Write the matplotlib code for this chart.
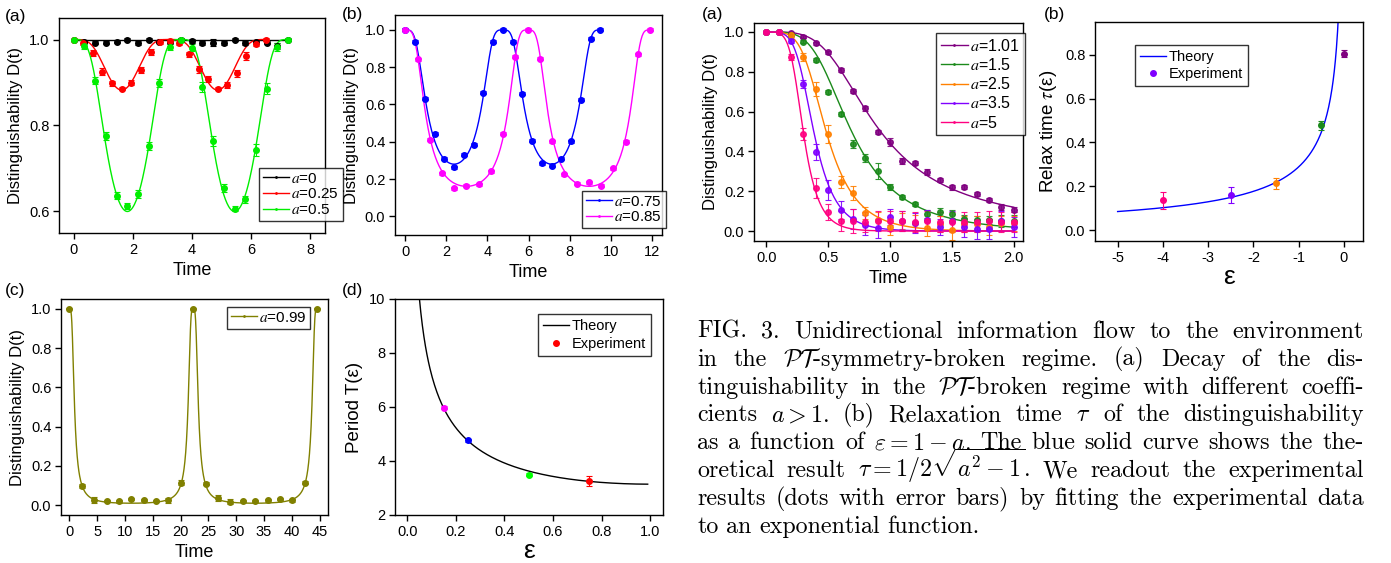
import numpy as np
import matplotlib
matplotlib.use("Agg")
import matplotlib.pyplot as plt

plt.rcParams['font.family'] = ['Liberation Sans', 'DejaVu Sans']
plt.rcParams['mathtext.fontset'] = 'stix'
plt.rcParams['axes.linewidth'] = 1.0
plt.rcParams['axes.unicode_minus'] = False

W, H = 1391, 563

# ---------------- data ----------------
# left (a): a = 0, 0.25, 0.5
a_left_a = [0.0, 0.25, 0.5]
t_a0 = [0, 0.36, 0.73, 1.09, 1.45, 1.81, 2.18, 2.54, 2.90, 3.27, 3.63,
        3.99, 4.35, 4.72, 5.08, 5.44, 5.80, 6.17, 6.53, 6.89, 7.26]
d_a0 = [1.0, 0.995, 0.993, 0.993, 0.995, 1.0, 0.992, 1.0, 0.995, 0.995, 1.0,
        0.997, 0.992, 0.993, 0.992, 1.0, 0.992, 0.994, 0.993, 0.985, 1.0]
e_a0 = [0.002, 0.004, 0.004, 0.004, 0.004, 0.004, 0.004, 0.003, 0.004, 0.005, 0.003,
        0.004, 0.005, 0.009, 0.005, 0.003, 0.005, 0.004, 0.004, 0.008, 0.002]
t_a1 = [0, 0.32, 0.65, 0.97, 1.30, 1.62, 1.95, 2.27, 2.60, 2.92, 3.25,
        3.57, 3.89, 4.22, 4.54, 4.87, 5.19, 5.52, 5.84, 6.17, 6.49]
d_a1 = [1.0, 0.993, 0.968, 0.925, 0.898, 0.886, 0.900, 0.929, 0.971, 0.995, 0.997,
        0.993, 0.966, 0.931, 0.909, 0.886, 0.895, 0.921, 0.962, 0.990, 1.0]
e_a1 = [0.002, 0.006, 0.007, 0.008, 0.006, 0.004, 0.006, 0.008, 0.007, 0.006, 0.004,
        0.006, 0.006, 0.008, 0.007, 0.004, 0.007, 0.008, 0.009, 0.006, 0.003]
t_a2 = [0, 0.36, 0.73, 1.09, 1.45, 1.81, 2.18, 2.54, 2.90, 3.27, 3.63,
        3.99, 4.35, 4.72, 5.08, 5.44, 5.80, 6.17, 6.53, 6.89, 7.26]
d_a2 = [1.0, 0.984, 0.904, 0.776, 0.637, 0.612, 0.640, 0.752, 0.898, 0.983, 1.0,
        0.981, 0.890, 0.764, 0.655, 0.606, 0.628, 0.743, 0.886, 0.982, 1.0]
e_a2 = [0.002, 0.006, 0.008, 0.009, 0.009, 0.007, 0.009, 0.009, 0.009, 0.008, 0.003,
        0.008, 0.012, 0.011, 0.009, 0.006, 0.009, 0.014, 0.013, 0.009, 0.003]

# left (b): a = 0.75, 0.85
a_left_b = [0.75, 0.85]
t_b0 = [0, 0.48, 0.95, 1.43, 1.90, 2.38, 2.85, 3.33, 3.80, 4.28, 4.75,
        5.23, 5.70, 6.18, 6.65, 7.13, 7.60, 8.08, 8.55, 9.03, 9.50]
d_b0 = [1.0, 0.937, 0.631, 0.444, 0.308, 0.263, 0.331, 0.383, 0.664, 0.936, 1.0,
        0.936, 0.658, 0.406, 0.286, 0.272, 0.308, 0.404, 0.626, 0.952, 1.0]
t_b1 = [0, 0.60, 1.19, 1.79, 2.38, 2.98, 3.58, 4.17, 4.77, 5.36, 5.96,
        6.56, 7.15, 7.75, 8.34, 8.94, 9.54, 10.13, 10.73, 11.32, 11.92]
d_b1 = [1.0, 0.843, 0.410, 0.231, 0.150, 0.163, 0.172, 0.242, 0.442, 0.857, 1.0,
        0.846, 0.404, 0.225, 0.175, 0.182, 0.163, 0.259, 0.401, 0.869, 1.0]

# left (c): a = 0.99
a_left_c = 0.99
t_c = [0, 2.23, 4.45, 6.68, 8.91, 11.14, 13.36, 15.59, 17.82, 20.04, 22.27,
       24.50, 26.72, 28.95, 31.18, 33.41, 35.63, 37.86, 40.09, 42.31, 44.54]
d_c = [1.0, 0.098, 0.028, 0.020, 0.020, 0.032, 0.027, 0.022, 0.024, 0.115, 1.0,
       0.109, 0.035, 0.017, 0.020, 0.022, 0.024, 0.030, 0.025, 0.115, 1.0]
e_c = [0.003, 0.008, 0.015, 0.006, 0.008, 0.006, 0.006, 0.005, 0.015, 0.012, 0.003,
       0.008, 0.015, 0.012, 0.006, 0.006, 0.006, 0.006, 0.008, 0.006, 0.003]

# left (d): period vs epsilon
eps_d = [0.15, 0.25, 0.50, 0.75]
per_d = [5.98, 4.77, 3.50, 3.25]
per_err = [0.05, 0.05, 0.04, 0.18]
col_d = ['#ff00ff', '#0000ff', '#00ff00', '#ff0000']

# right (a): broken regime
a_right = [1.01, 1.5, 2.5, 3.5, 5]
t_r = [0, 0.1, 0.2, 0.3, 0.4, 0.5, 0.6, 0.7, 0.8, 0.9, 1.0,
       1.1, 1.2, 1.3, 1.4, 1.5, 1.6, 1.7, 1.8, 1.9, 2.0]
d_r = [
    [1.0, 1.0, 0.993, 0.977, 0.943, 0.898, 0.809, 0.705, 0.616, 0.497, 0.447,
     0.350, 0.340, 0.296, 0.256, 0.219, 0.219, 0.188, 0.154, 0.119, 0.107],
    [1.0, 1.0, 0.985, 0.951, 0.859, 0.698, 0.588, 0.436, 0.369, 0.302, 0.219,
     0.173, 0.134, 0.084, 0.094, 0.085, 0.060, 0.055, 0.055, 0.050, 0.050],
    [1.0, 1.0, 0.983, 0.873, 0.712, 0.487, 0.248, 0.193, 0.092, 0.055, 0.022,
     0.050, 0.040, 0.017, 0.035, 0.005, 0.034, 0.035, 0.022, 0.038, 0.038],
    [1.0, 1.0, 0.953, 0.737, 0.399, 0.206, 0.106, 0.059, 0.030, 0.013, 0.072,
     0.049, 0.039, 0.055, 0.020, 0.050, 0.018, 0.008, 0.008, 0.050, 0.022],
    [1.0, 1.0, 0.873, 0.489, 0.214, 0.094, 0.049, 0.049, 0.047, 0.049, 0.052,
     0.050, 0.047, 0.050, 0.047, 0.047, 0.047, 0.047, 0.050, 0.047, 0.047],
]
e_r = [
    [0.003, 0.003, 0.005, 0.006, 0.008, 0.008, 0.010, 0.010, 0.012, 0.010, 0.020,
     0.015, 0.010, 0.015, 0.012, 0.012, 0.010, 0.010, 0.010, 0.015, 0.012],
    [0.003, 0.003, 0.006, 0.008, 0.008, 0.008, 0.012, 0.020, 0.020, 0.040, 0.015,
     0.010, 0.010, 0.020, 0.020, 0.020, 0.020, 0.020, 0.020, 0.030, 0.030],
    [0.003, 0.003, 0.010, 0.020, 0.035, 0.045, 0.030, 0.035, 0.030, 0.040, 0.040,
     0.040, 0.040, 0.040, 0.040, 0.050, 0.040, 0.040, 0.040, 0.040, 0.040],
    [0.003, 0.003, 0.010, 0.020, 0.040, 0.050, 0.045, 0.050, 0.050, 0.050, 0.040,
     0.050, 0.050, 0.050, 0.040, 0.050, 0.050, 0.050, 0.050, 0.050, 0.050],
    [0.003, 0.003, 0.015, 0.030, 0.050, 0.040, 0.050, 0.060, 0.050, 0.050, 0.050,
     0.050, 0.050, 0.050, 0.050, 0.050, 0.050, 0.050, 0.050, 0.050, 0.050],
]
col_r = ['#800080', '#1b8a1b', '#ff8000', '#8000ff', '#ff0080']
lab_r = ['1.01', '1.5', '2.5', '3.5', '5']

# right (b): relaxation time
eps_b = [-4.0, -2.5, -1.5, -0.5, 0.0]
tau_b = [0.135, 0.160, 0.214, 0.479, 0.806]
tau_err = [0.040, 0.037, 0.025, 0.020, 0.017]
col_b = ['#ff0080', '#8000ff', '#ff8000', '#1b8a1b', '#800080']


# ---------------- theory ----------------
def distinguishability(a, t):
    # trace distance of |0>,|1> evolved under H = sx + i a sz (normalised)
    w = np.sqrt(complex(1 - a * a))
    Hm = np.array([[1j * a, 1], [1, -1j * a]])
    out = []
    for ti in t:
        U = np.cos(w * ti) * np.eye(2) - 1j * np.sin(w * ti) / w * Hm
        p1, p2 = U[:, 0], U[:, 1]
        ov = abs(np.vdot(p1, p2)) ** 2 / (np.vdot(p1, p1).real * np.vdot(p2, p2).real)
        out.append(np.sqrt(max(0.0, 1 - ov)))
    return np.array(out)


def make_ax(fig, x0, y0, x1, y1):
    ax = fig.add_axes([x0 / W, 1 - y1 / H, (x1 - x0) / W, (y1 - y0) / H])
    ax.tick_params(direction='out', length=4, width=1, labelsize=10.5, pad=3)
    return ax


def legend(ax, px, py, fs=10.5, **kw):
    # upper-left corner of the legend box given in figure pixels
    opts = dict(frameon=True, fancybox=False, edgecolor='black', fontsize=fs,
                handlelength=1.7, handletextpad=0.15, borderpad=0.25,
                labelspacing=0.15, borderaxespad=0, loc='upper left',
                bbox_to_anchor=(px / W, 1 - py / H),
                bbox_transform=ax.figure.transFigure)
    opts.update(kw)
    lg = ax.legend(**opts)
    lg.get_frame().set_linewidth(1.0)
    lg.set_zorder(10)
    return lg


fig = plt.figure(figsize=(W / 100, H / 100), dpi=100)

# ---- left (a)
ax = make_ax(fig, 59, 18, 325, 233)
cols = ['black', '#ff0000', '#00ee00']
for a, t, d, e, c in zip(a_left_a, [t_a0, t_a1, t_a2], [d_a0, d_a1, d_a2],
                         [e_a0, e_a1, e_a2], cols):
    tt = np.linspace(0, t[-1], 400)
    ax.plot(tt, distinguishability(a, tt), color=c, lw=1.0,
            label='$a$=%g' % a, marker='.', markersize=2, markevery=[200])
    ax.errorbar(t, d, yerr=e, fmt='o', color=c, ms=4, capsize=2, elinewidth=0.8,
                capthick=0.8)
ax.set_xlim(-0.5, 8.5)
ax.set_ylim(0.55, 1.05)
ax.set_xticks([0, 2, 4, 6, 8])
ax.set_yticks([0.6, 0.8, 1.0])
ax.set_xlabel('Time', fontsize=13)
ax.set_ylabel('Distinguishability D(t)', fontsize=12)
legend(ax, 259, 168, fs=11, labelspacing=0.1)
fig.text(5 / W, 1 - 16 / H, '(a)', fontsize=12.5, va='center')

# ---- left (b)
ax = make_ax(fig, 395, 15, 662, 235)
for a, t, d, c in zip(a_left_b, [t_b0, t_b1], [d_b0, d_b1], ['#0000ff', '#ff00ff']):
    tt = np.linspace(0, t[-1], 400)
    ax.plot(tt, distinguishability(a, tt), color=c, lw=1.0, label='$a$=%g' % a,
            marker='.', markersize=2, markevery=[200])
    ax.errorbar(t, d, yerr=0.008, fmt='o', color=c, ms=4, capsize=2,
                elinewidth=0.8, capthick=0.8)
ax.set_xlim(-0.5, 12.5)
ax.set_ylim(-0.1, 1.08)
ax.set_xticks([0, 2, 4, 6, 8, 10, 12])
ax.set_yticks([0.0, 0.2, 0.4, 0.6, 0.8, 1.0])
ax.set_xlabel('Time', fontsize=13)
ax.set_ylabel('Distinguishability D(t)', fontsize=12)
legend(ax, 582, 191, fs=11, labelspacing=0.1)
fig.text(342 / W, 1 - 14 / H, '(b)', fontsize=12.5, va='center')

# ---- left (c)
ax = make_ax(fig, 61, 299, 328, 515)
c = '#808000'
tt = np.linspace(0, t_c[-1], 1200)
ax.plot(tt, distinguishability(a_left_c, tt), color=c, lw=1.0, label='$a$=%g' % a_left_c,
        marker='.', markersize=2, markevery=[600])
ax.errorbar(t_c, d_c, yerr=e_c, fmt='o', color=c, ms=4, capsize=2, elinewidth=0.8,
            capthick=0.8)
ax.set_xlim(-1.5, 46.5)
ax.set_ylim(-0.05, 1.05)
ax.set_xticks(range(0, 50, 5))
ax.set_yticks([0.0, 0.2, 0.4, 0.6, 0.8, 1.0])
ax.set_xlabel('Time', fontsize=13)
ax.set_ylabel('Distinguishability D(t)', fontsize=12)
legend(ax, 227, 307, fs=11)
fig.text(5 / W, 1 - 290 / H, '(c)', fontsize=12.5, va='center')

# ---- left (d)
ax = make_ax(fig, 395, 299, 663, 515)
ee = np.linspace(0.05, 0.99, 300)
ax.plot(ee, np.pi / np.sqrt(1 - (1 - ee) ** 2), color='black', lw=1.0, label='Theory')
for x, y, e, c in zip(eps_d, per_d, per_err, col_d):
    ax.errorbar([x], [y], yerr=[e], fmt='o', color=c, ms=4, capsize=2,
                elinewidth=0.8, capthick=0.8)
ax.plot([], [], 'o', color='#ff0000', ms=4, label='Experiment')
ax.set_xlim(-0.05, 1.053)
ax.set_ylim(2, 10)
ax.set_xticks([0.0, 0.2, 0.4, 0.6, 0.8, 1.0])
ax.set_yticks([2, 4, 6, 8, 10])
ax.set_xlabel('ε', fontsize=19, labelpad=0)
ax.set_ylabel('Period T(ε)', fontsize=13.5)
legend(ax, 538, 314, fs=10.5, borderpad=0.35, labelspacing=0.25, handlelength=1.8)
fig.text(342 / W, 1 - 290 / H, '(d)', fontsize=12.5, va='center')

# ---- right (a)
ax = make_ax(fig, 754, 23, 1023, 241)
for a, d, e, c, lb in zip(a_right, d_r, e_r, col_r, lab_r):
    tt = np.linspace(0, 2.0, 400)
    ax.plot(tt, distinguishability(a, tt), color=c, lw=1.0, label='$a$=' + lb,
            marker='.', markersize=2, markevery=[200])
    ax.errorbar(t_r, d, yerr=e, fmt='o', color=c, ms=4, capsize=2,
                elinewidth=0.8, capthick=0.8, alpha=0.9)
ax.set_xlim(-0.1, 2.075)
ax.set_ylim(-0.05, 1.045)
ax.set_xticks([0.0, 0.5, 1.0, 1.5, 2.0])
ax.set_yticks([0.0, 0.2, 0.4, 0.6, 0.8, 1.0])
ax.set_xlabel('Time', fontsize=13)
ax.set_ylabel('Distinguishability D(t)', fontsize=12)
legend(ax, 936, 33, fs=11.5, labelspacing=0.2, borderpad=0.3)
fig.text(702 / W, 1 - 14 / H, '(a)', fontsize=12.5, va='center')

# ---- right (b)
ax = make_ax(fig, 1095, 22, 1363, 241)
ee = np.linspace(-5, -0.08, 400)
ax.plot(ee, 1 / (2 * np.sqrt((1 - ee) ** 2 - 1)), color='#0000ff', lw=1.0,
        label='Theory')
for x, y, e, c in zip(eps_b, tau_b, tau_err, col_b):
    ax.errorbar([x], [y], yerr=[e], fmt='o', color=c, ms=4, capsize=2,
                elinewidth=0.8, capthick=0.8)
ax.plot([], [], 'o', color='#8000ff', ms=4, label='Experiment')
ax.set_xlim(-5.5, 0.42)
ax.set_ylim(-0.05, 0.95)
ax.set_xticks([-5, -4, -3, -2, -1, 0])
ax.set_yticks([0.0, 0.2, 0.4, 0.6, 0.8])
ax.set_xlabel('ε', fontsize=19, labelpad=0)
ax.set_ylabel(r'Relax time $\tau$(ε)', fontsize=13.5)
legend(ax, 1135, 45, fs=10.5, borderpad=0.35, labelspacing=0.2, handlelength=1.8)
fig.text(1044 / W, 1 - 14 / H, '(b)', fontsize=12.5, va='center')

# ---------------- caption ----------------
cap_lines = [
    r"FIG. 3.  Unidirectional information flow to the environment",
    r"in the $\mathcal{PT}$-symmetry-broken regime.  (a) Decay of the dis-",
    r"tinguishability in the $\mathcal{PT}$-broken regime with different coeffi-",
    r"cients $a>1$.  (b) Relaxation time $\tau$ of the distinguishability",
    r"as a function of $\varepsilon=1-a$.  The blue solid curve shows the the-",
    r"oretical result $\tau=1/2\sqrt{a^2-1}$.  We readout the experimental",
    r"results (dots with error bars) by fitting the experimental data",
    r"to an exponential function.",
]
cap_x0, cap_x1 = 697, 1364
cap_y0, cap_dy = 338, 27.8
cap_fs = 17.3
renderer = fig.canvas.get_renderer()
for i, line in enumerate(cap_lines):
    y = 1 - (cap_y0 + i * cap_dy) / H
    words = line.split()
    objs = [fig.text(0, y, w_, fontsize=cap_fs, family='cmr10', math_fontfamily='cm',
                     va='baseline') for w_ in words]
    widths = [o.get_window_extent(renderer).width for o in objs]
    if i == len(cap_lines) - 1:
        gap = cap_fs * 0.45
    else:
        gap = (cap_x1 - cap_x0 - sum(widths)) / (len(words) - 1)
    x = cap_x0
    for o, wd in zip(objs, widths):
        o.set_x(x / W)
        x += wd + gap

for lg_ax in fig.axes:
    lg = lg_ax.get_legend()
    if lg is not None:
        for t in lg.get_texts():
            t.set_math_fontfamily('stix')

fig.savefig('out.png', dpi=100)
